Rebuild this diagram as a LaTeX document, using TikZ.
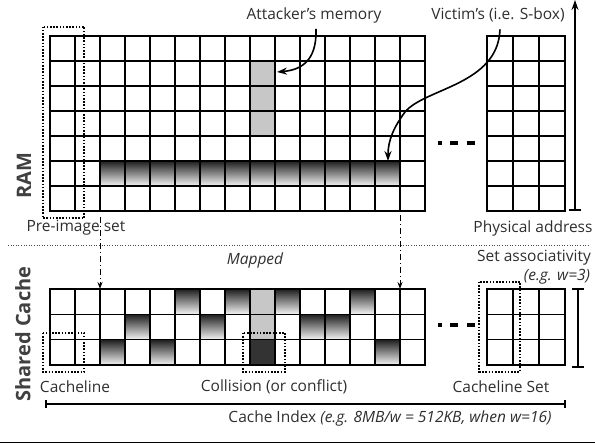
\documentclass[tikz,border=0pt]{standalone}
\usepackage{fontspec}
\setmainfont{Open Sans}
\usetikzlibrary{arrows.meta}
\begin{document}
\begin{tikzpicture}[x=1pt,y=-1pt,
  gridline/.style={line width=1.6pt, black, line cap=rect},
  lbl/.style={font=\fontsize{15.5}{17}\selectfont, text=black!82, inner sep=0pt},
  ilbl/.style={lbl, font=\fontsize{15.5}{17}\selectfont\itshape},
  side/.style={font=\fontsize{20}{22}\selectfont\bfseries, text=black!75, rotate=90, inner sep=0pt},
  dotbox/.style={line width=1.8pt, dash pattern=on 1.6pt off 1.6pt},
  grad/.style={top color=black!88, bottom color=black!4},
  graycell/.style={fill=black!22},
  darkcell/.style={fill=black!80},
  mapline/.style={line width=0.9pt, dash pattern=on 6pt off 3pt on 1pt off 3pt, -{Stealth[length=7pt,width=5pt]}},
  curvearrow/.style={line width=1.6pt, -{Stealth[length=10pt,width=7pt]}},
  ellip/.style={line width=3.5pt},
  rangeline/.style={line width=1.6pt}
]
\useasboundingbox (0,0) rectangle (595,444);

% ---------- RAM fills ----------
\fill[graycell] (250,61) rectangle (275,136);
\foreach \c in {2,...,13} \shade[grad] ({50+25*\c},161) rectangle ({75+25*\c},186);

% ---------- RAM grid ----------
\foreach \r in {0,...,7} \draw[gridline] (50,{36+25*\r}) -- (425,{36+25*\r});
\foreach \c in {0,...,15} \draw[gridline] ({50+25*\c},36) -- ({50+25*\c},211);
\foreach \r in {0,...,7} \draw[gridline] (487,{36+25*\r}) -- (565,{36+25*\r});
\foreach \c in {0,...,3} \draw[gridline] ({487+26*\c},36) -- ({487+26*\c},211);

% ---------- Cache fills ----------
\foreach \c/\r in {5/0,7/0,9/0,12/0,3/1,6/1,10/1,11/1,2/2,4/2,13/2}
  \shade[grad] ({50+25*\c},{289+25.33*\r}) rectangle ({75+25*\c},{314.33+25.33*\r});
\fill[graycell] (250,289) rectangle (275,339.67);
\fill[darkcell] (250,339.67) rectangle (275,365);

% ---------- Cache grid ----------
\foreach \r in {0,...,3} \draw[gridline] (50,{289+25.33*\r}) -- (425,{289+25.33*\r});
\foreach \c in {0,...,15} \draw[gridline] ({50+25*\c},289) -- ({50+25*\c},365);
\foreach \r in {0,...,3} \draw[gridline] (487,{289+25.33*\r}) -- (565,{289+25.33*\r});
\foreach \c in {0,...,3} \draw[gridline] ({487+26*\c},289) -- ({487+26*\c},365);

% ---------- ellipses ----------
\foreach \y in {143,325} {
  \draw[ellip] (438,\y) -- (442,\y);
  \draw[ellip] (450,\y) -- (458,\y);
  \draw[ellip] (467,\y) -- (475,\y);
}

% ---------- dotted boxes ----------
\draw[dotbox] (42.7,26.7) rectangle (84.3,218.3);
\draw[dotbox] (42.7,332.7) rectangle (84.3,371.7);
\draw[dotbox] (242.7,332.7) rectangle (285,371.7);
\draw[dotbox] (479.3,281.7) rectangle (520,371.7);

% ---------- separators ----------
\draw[line width=0.8pt, dash pattern=on 1pt off 1.6pt, black!70] (8,245) -- (590,245);
\draw[line width=1pt] (0,442) -- (595,442);

% ---------- labels ----------
\node[lbl] (att) at (314,15) {Attacker’s memory};
\node[lbl] (vic) at (498,15) {Victim’s (i.e. S-box)};
\node[lbl] (phys) at (533,228) {Physical address};
\node[lbl] (pre) at (76,228) {Pre-image set};
\node[ilbl] (mapd) at (255,260) {Mapped};
\node[lbl] (seta) at (534,258) {Set associativity};
\node[ilbl] (egw) at (557,277) {(e.g. w=3)};
\node[lbl] (cl) at (75,387) {Cacheline};
\node[lbl] (coll) at (274,387) {Collision (or conflict)};
\node[lbl] (cls) at (501,387) {Cacheline Set};
\node[lbl] (ci) at (390,418) {Cache Index \textit{(e.g. 8MB/w = 512KB, when w=16)}};
\node[side] (ram) at (24,176) {RAM};
\node[side] (sc) at (23,334) {Shared Cache};

% ---------- arrows ----------
\coordinate (atttip) at (277,72);
\coordinate (victip) at (388,161);
\draw[curvearrow] ([shift={(2,6)}]att.south) .. controls (317,62) and (300,70) .. (atttip);
\draw[curvearrow] ([shift={(2,7)}]vic.south) .. controls (498,85) and (425,88) .. (405,112)
   .. controls (394,127) and (388,140) .. (victip);

\coordinate (m1s) at (100,217);
\coordinate (m1e) at (100,289);
\coordinate (m2s) at (400,215);
\coordinate (m2e) at (400,289);
\draw[mapline] (m1s) -- (m1e);
\draw[mapline] (m2s) -- (m2e);

\coordinate (pa0) at (575,211);
\coordinate (pa1) at (575,0);
\draw[rangeline, {Bar[width=12pt]}-{Stealth[length=10pt,width=7pt]}] (pa0) -- (pa1);
\coordinate (sa0) at (578,288);
\coordinate (sa1) at (578,368);
\draw[rangeline, {Bar[width=12pt]}-{Bar[width=12pt]}] (sa0) -- (sa1);
\coordinate (ci0) at (45,404);
\coordinate (ci1) at (566,404);
\draw[rangeline, line width=1.8pt, {Bar[width=8pt]}-{Bar[width=8pt]}] (ci0) -- (ci1);
\end{tikzpicture}
\end{document}
